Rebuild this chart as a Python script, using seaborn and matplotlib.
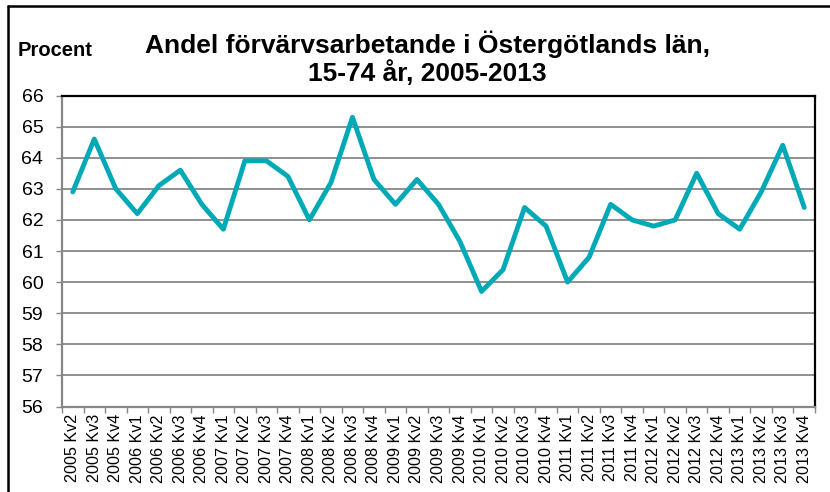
import matplotlib
matplotlib.use('Agg')
import matplotlib.pyplot as plt
from matplotlib.lines import Line2D
import seaborn as sns
import pandas as pd

# Data
kvartal = ['2005 Kv2', '2005 Kv3', '2005 Kv4',
           '2006 Kv1', '2006 Kv2', '2006 Kv3', '2006 Kv4',
           '2007 Kv1', '2007 Kv2', '2007 Kv3', '2007 Kv4',
           '2008 Kv1', '2008 Kv2', '2008 Kv3', '2008 Kv4',
           '2009 Kv1', '2009 Kv2', '2009 Kv3', '2009 Kv4',
           '2010 Kv1', '2010 Kv2', '2010 Kv3', '2010 Kv4',
           '2011 Kv1', '2011 Kv2', '2011 Kv3', '2011 Kv4',
           '2012 Kv1', '2012 Kv2', '2012 Kv3', '2012 Kv4',
           '2013 Kv1', '2013 Kv2', '2013 Kv3', '2013 Kv4']
andel = [62.9, 64.6, 63.0,
         62.2, 63.1, 63.6, 62.5,
         61.7, 63.9, 63.9, 63.4,
         62.0, 63.2, 65.3, 63.3,
         62.5, 63.3, 62.5, 61.3,
         59.7, 60.4, 62.4, 61.8,
         60.0, 60.8, 62.5, 62.0,
         61.8, 62.0, 63.5, 62.2,
         61.7, 62.9, 64.4, 62.4]
y_ticks = list(range(56, 67))

df = pd.DataFrame({'Kvartal': kvartal, 'Procent': andel})
df['pos'] = range(len(df))

sns.set_style('white')
plt.rcParams['font.family'] = ['Liberation Sans', 'DejaVu Sans']
plt.rcParams['text.color'] = 'black'
plt.rcParams['xtick.labelcolor'] = 'black'
plt.rcParams['ytick.labelcolor'] = 'black'

grid_col = '#878787'

fig, ax = plt.subplots(figsize=(8.3, 4.92), dpi=100)
fig.subplots_adjust(left=62/830, right=815/830, top=1-95.5/492, bottom=1-406.5/492)

for y in y_ticks[1:-1]:
    ax.axhline(y, color=grid_col, linewidth=1.3, zorder=1)

sns.lineplot(data=df, x='pos', y='Procent', color='#00A9B6', linewidth=3.5,
             sort=False, ax=ax, zorder=3)

ax.set_xlim(-0.5, len(kvartal) - 0.5)
ax.set_ylim(56, 66)
ax.set_yticks(y_ticks)
ax.set_yticklabels([str(v) for v in y_ticks], fontsize=14)
ax.set_xticks(range(len(kvartal)))
ax.set_xticklabels(kvartal, rotation=90, fontsize=11.6)
ax.set_xticks([i - 0.5 for i in range(len(kvartal) + 1)], minor=True)
ax.tick_params(axis='x', which='major', length=0, pad=5.5)
ax.tick_params(axis='x', which='minor', length=4, width=1, color=grid_col, direction='out', bottom=True)
ax.tick_params(axis='y', length=4, width=1, color=grid_col, direction='out', left=True, pad=9.5)
ax.set_xlabel('')
ax.set_ylabel('')

for side in ['left', 'bottom']:
    ax.spines[side].set_color(grid_col)
    ax.spines[side].set_linewidth(1.6)
for side in ['top', 'right']:
    ax.spines[side].set_color('black')
    ax.spines[side].set_linewidth(1.6)

fig.text(427/830, 1-58/492, 'Andel förvärvsarbetande i Östergötlands län,\n15-74 år, 2005-2013',
         ha='center', va='center', fontsize=19, fontweight='bold', linespacing=1.1)
fig.text(18/830, 1-51/492, 'Procent', ha='left', va='center', fontsize=14.5, fontweight='bold')

# yttre ram (bara vänster och topp syns)
fig.add_artist(Line2D([8/830, 8/830], [0, 1-6/492], color='black', linewidth=1.8))
fig.add_artist(Line2D([8/830, 1], [1-6/492, 1-6/492], color='black', linewidth=1.8))

plt.savefig('out.png', dpi=100)
